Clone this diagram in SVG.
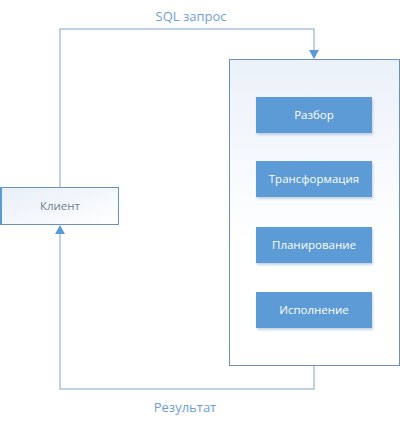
<svg xmlns="http://www.w3.org/2000/svg" width="400" height="423" viewBox="0 0 400 423">
<style>
.conn{fill:none;stroke:#A9C2E0;stroke-width:1.5}
.lbl{font-family:"Open Sans","Noto Sans",sans-serif;font-size:13px;fill:#6E9ED4;text-anchor:middle}
.step rect{fill:#5B9BD5}
.step text{font-family:"Open Sans","Noto Sans",sans-serif;font-size:11.5px;fill:#FFFFFF;text-anchor:middle}
</style>
<defs>
<linearGradient id="cg" x1="0" y1="0" x2="0" y2="1">
<stop offset="0" stop-color="#EBF1F9"/>
<stop offset="0.6" stop-color="#FFFFFF"/>
<stop offset="1" stop-color="#FFFFFF"/>
</linearGradient>
<linearGradient id="kg" x1="0" y1="0" x2="1" y2="1">
<stop offset="0" stop-color="#E8EFF8"/>
<stop offset="1" stop-color="#FFFFFF"/>
</linearGradient>
<filter id="sh" x="-10%" y="-10%" width="130%" height="140%">
<feDropShadow dx="1" dy="2" stdDeviation="1.2" flood-color="#8FA9C8" flood-opacity="0.5"/>
</filter>
<marker id="ar" markerWidth="10" markerHeight="10" refX="8" refY="5" orient="auto" markerUnits="userSpaceOnUse">
<path d="M0,0 L9,5 L0,10 Z" fill="#5B9BD5"/>
</marker>
</defs>
<g id="connectors">
<path class="conn" d="M60,187 V29 H314 V58" marker-end="url(#ar)"/>
<path class="conn" d="M314,366 V389 H60 V226" marker-end="url(#ar)"/>
</g>
<g id="labels">
<text class="lbl" x="191" y="21">SQL запрос</text>
<text class="lbl" x="185" y="412">Результат</text>
</g>
<g id="server">
<rect x="229.5" y="59.5" width="170" height="306" fill="url(#cg)" stroke="#6D8FBB" stroke-width="1"/>
</g>
<g id="client">
<rect x="0.5" y="187.5" width="118" height="37" fill="url(#kg)" stroke="#6D8FBB" stroke-width="1"/>
<rect x="0" y="187" width="2" height="38" fill="#5B9BD5"/>
<text x="60" y="210" font-family="'Open Sans','Noto Sans',sans-serif" font-size="11.5px" fill="#6B7F99" text-anchor="middle">Клиент</text>
</g>
<g id="parse" class="step">
<rect x="256" y="97" width="116" height="36" filter="url(#sh)"/>
<text x="314" y="119">Разбор</text>
</g>
<g id="transform" class="step">
<rect x="256" y="161" width="116" height="36" filter="url(#sh)"/>
<text x="314" y="183">Трансформация</text>
</g>
<g id="plan" class="step">
<rect x="256" y="227" width="116" height="36" filter="url(#sh)"/>
<text x="314" y="249">Планирование</text>
</g>
<g id="execute" class="step">
<rect x="256" y="292" width="116" height="36" filter="url(#sh)"/>
<text x="314" y="314">Исполнение</text>
</g>
</svg>
